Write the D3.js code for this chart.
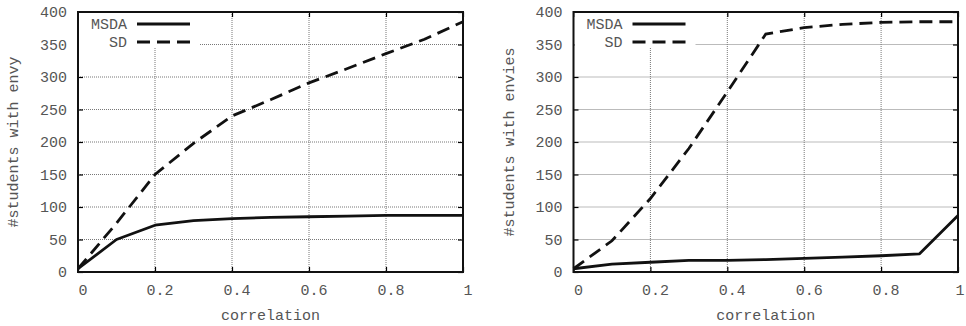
<!DOCTYPE html>
<html>
<head>
<meta charset="utf-8">
<script src="https://cdn.jsdelivr.net/npm/d3@7"></script>
<style>
  body { margin: 0; background: #fff; }
  text { font-family: "Liberation Mono", "DejaVu Sans Mono", monospace; fill: #555; }
</style>
</head>
<body>
<div id="chart"></div>
<script>
// data
const correlation = [0, 0.1, 0.2, 0.3, 0.4, 0.5, 0.6, 0.7, 0.8, 0.9, 1.0];
const envyMSDA = [5, 50, 72, 79, 82, 84, 85, 86, 87, 87, 87];
const envySD = [5, 75, 150, 198, 240, 265, 291, 313, 336, 358, 385];
const enviesMSDA = [5, 12, 15, 18, 18, 19, 21, 23, 25, 28, 87];
const enviesSD = [5, 48, 113, 190, 277, 366, 376, 381, 384, 385, 385];
const xTicks = [0, 0.2, 0.4, 0.6, 0.8, 1];
const yTicks = [0, 50, 100, 150, 200, 250, 300, 350, 400];
const seriesNames = ["MSDA", "SD"];

const width = 966, height = 326;

const svg = d3.select("#chart")
    .append("svg")
    .attr("width", width)
    .attr("height", height);

function drawPanel(left, right, yLabel, msda, sd) {
    const top = 12, bottom = 272;
    const x = d3.scaleLinear().domain([0, 1]).range([left, right]);
    const y = d3.scaleLinear().domain([0, 400]).range([bottom, top]);
    const g = svg.append("g");

    // dotted grid
    g.selectAll(".vgrid")
        .data(xTicks.slice(1, -1))
        .enter()
        .append("line")
        .attr("x1", d => x(d)).attr("x2", d => x(d))
        .attr("y1", top).attr("y2", bottom)
        .style("stroke", "#777")
        .style("stroke-dasharray", "1,1");
    g.selectAll(".hgrid")
        .data(yTicks.slice(1, -1))
        .enter()
        .append("line")
        .attr("x1", left).attr("x2", right)
        .attr("y1", d => y(d)).attr("y2", d => y(d))
        .style("stroke", "#777")
        .style("stroke-dasharray", "1,1");

    // inward ticks on all four sides (mirror)
    const tickLen = 5;
    const axes = [
        d3.axisBottom(x).tickValues(xTicks).tickSize(-tickLen).tickFormat(""),
        d3.axisTop(x).tickValues(xTicks).tickSize(-tickLen).tickFormat(""),
        d3.axisLeft(y).tickValues(yTicks).tickSize(-tickLen).tickFormat(""),
        d3.axisRight(y).tickValues(yTicks).tickSize(-tickLen).tickFormat("")
    ];
    const shifts = [[0, bottom], [0, top], [left, 0], [right, 0]];
    axes.forEach((ax, i) => {
        const a = g.append("g")
            .attr("transform", `translate(${shifts[i][0]},${shifts[i][1]})`)
            .call(ax);
        a.select(".domain").remove();
        a.selectAll("line").style("stroke", "#000").style("stroke-width", 1.2);
    });

    // tick labels (gnuplot draws them a little right of the tick)
    g.selectAll(".xlab")
        .data(xTicks)
        .enter()
        .append("text")
        .attr("x", d => Math.min(x(d) + 5, width - 6))
        .attr("y", 295)
        .attr("text-anchor", "middle")
        .style("font-size", "15px")
        .text(d => String(d));
    g.selectAll(".ylab")
        .data(yTicks)
        .enter()
        .append("text")
        .attr("x", left - 11)
        .attr("y", d => y(d) + 5)
        .attr("text-anchor", "end")
        .style("font-size", "15px")
        .text(d => String(d));

    // axis titles
    g.append("text")
        .attr("x", (left + right) / 2)
        .attr("y", 320)
        .attr("text-anchor", "middle")
        .style("font-size", "15px")
        .text("correlation");
    g.append("text")
        .attr("transform", `translate(${left - 60},${(top + bottom) / 2}) rotate(-90)`)
        .attr("text-anchor", "middle")
        .style("font-size", "15px")
        .text(yLabel);

    // lines
    const line = d3.line()
        .x((d, i) => x(correlation[i]))
        .y(d => y(d));
    g.append("path")
        .datum(msda)
        .attr("d", line)
        .style("fill", "none")
        .style("stroke", "#111")
        .style("stroke-width", 2.8)
        .style("stroke-linejoin", "round");
    g.append("path")
        .datum(sd)
        .attr("d", line)
        .style("fill", "none")
        .style("stroke", "#111")
        .style("stroke-width", 2.8)
        .style("stroke-dasharray", "13,7");

    // legend with opaque background
    g.append("rect")
        .attr("x", left + 1).attr("y", top + 1)
        .attr("width", 121).attr("height", 35)
        .style("fill", "#fff");
    seriesNames.forEach((name, i) => {
        const ly = top + 12 + i * 18;
        g.append("text")
            .attr("x", left + 49)
            .attr("y", ly + 5)
            .attr("text-anchor", "end")
            .style("font-size", "15px")
            .text(name);
        g.append("line")
            .attr("x1", left + 59).attr("x2", left + 112)
            .attr("y1", ly).attr("y2", ly)
            .style("stroke", "#111")
            .style("stroke-width", 2.8)
            .style("stroke-dasharray", i === 1 ? "13,7" : null);
    });

    // frame
    g.append("rect")
        .attr("x", left).attr("y", top)
        .attr("width", right - left).attr("height", bottom - top)
        .style("fill", "none")
        .style("stroke", "#111")
        .style("stroke-width", 2);
}

drawPanel(78, 463, "#students with envy", envyMSDA, envySD);
drawPanel(573.5, 958, "#students with envies", enviesMSDA, enviesSD);
</script>
</body>
</html>
